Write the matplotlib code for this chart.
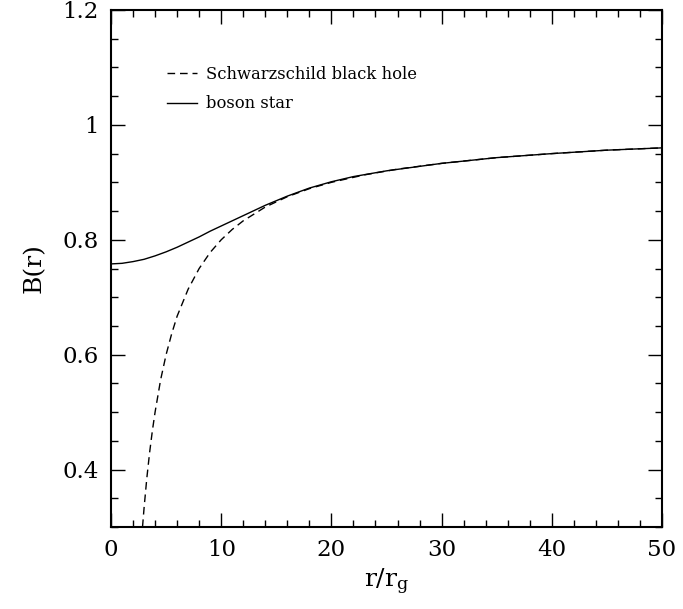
import matplotlib
matplotlib.use("Agg")
import matplotlib.pyplot as plt
from matplotlib.ticker import MultipleLocator

# Schwarzschild black hole curve
r_bh = [2.86, 3.0, 3.25, 3.5, 3.75, 4.0, 4.5, 5.0, 5.5, 6.0, 7.0, 8.0, 9.0, 10.0,
        11.0, 12.0, 14.0, 16.0, 18.0, 20.0, 23.0, 26.0, 30.0, 35.0, 40.0, 45.0, 50.0]
B_bh = [0.300, 0.333, 0.385, 0.429, 0.467, 0.500, 0.556, 0.600, 0.636, 0.667, 0.714,
        0.750, 0.778, 0.800, 0.818, 0.833, 0.857, 0.875, 0.889, 0.900, 0.913, 0.923,
        0.933, 0.943, 0.950, 0.956, 0.960]

# boson star curve
r_bs = [0, 1, 2, 3, 4, 5, 6, 7, 8, 9, 10, 11, 12, 13, 14, 15, 16, 17, 18, 20,
        22, 25, 30, 35, 40, 45, 50]
B_bs = [0.758, 0.759, 0.762, 0.766, 0.772, 0.779, 0.787, 0.796, 0.805, 0.815,
        0.824, 0.833, 0.842, 0.851, 0.860, 0.868, 0.876, 0.883, 0.890, 0.901,
        0.910, 0.920, 0.933, 0.943, 0.950, 0.956, 0.960]

labels = ["Schwarzschild black hole", "boson star"]

plt.rcParams['font.family'] = ['DejaVu Serif']
plt.rcParams['mathtext.fontset'] = 'dejavuserif'

fig = plt.figure(figsize=(6.83, 6.09), dpi=100)
ax = fig.add_axes([111/683, 1 - 527/609, (662-111)/683, (527-10)/609])

ax.plot(r_bh, B_bh, color='black', lw=1.0, dashes=(5.5, 3.5), label=labels[0])
ax.plot(r_bs, B_bs, color='black', lw=1.0, label=labels[1])

ax.set_xlim(0, 50)
ax.set_ylim(0.3, 1.2)
ax.xaxis.set_major_locator(MultipleLocator(10))
ax.xaxis.set_minor_locator(MultipleLocator(2))
ax.yaxis.set_major_locator(MultipleLocator(0.2))
ax.yaxis.set_minor_locator(MultipleLocator(0.05))
ax.set_yticks([0.4, 0.6, 0.8, 1.0, 1.2])
ax.set_yticklabels(["0.4", "0.6", "0.8", "1", "1.2"])

ax.tick_params(which='both', direction='in', top=True, right=True, width=1.0)
ax.tick_params(which='major', length=10, labelsize=16.5, pad=9)
ax.tick_params(which='minor', length=5)
for s in ax.spines.values():
    s.set_linewidth(1.5)

ax.set_xlabel(r"r/r$_{\mathrm{g}}$", fontsize=18, labelpad=4)
ax.set_ylabel("B(r)", fontsize=18, labelpad=12)

leg = ax.legend(loc='upper left', bbox_to_anchor=(0.075, 0.92), frameon=False,
                fontsize=11.8, handlelength=1.8, handletextpad=0.6, labelspacing=0.75)

fig.savefig("out.png", dpi=100)
